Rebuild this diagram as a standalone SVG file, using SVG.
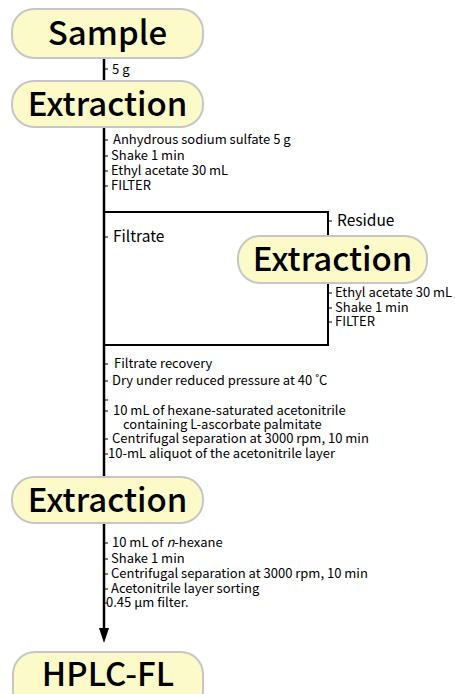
<svg xmlns="http://www.w3.org/2000/svg" width="455" height="694" viewBox="0 0 455 694">
<style>
.box{fill:#fdfac9;stroke:#c6c6c6;stroke-width:2}
.big{font-family:"Noto Sans CJK JP","Noto Sans",sans-serif;font-size:33px;font-weight:500;fill:#000;text-anchor:middle}
.t{font-family:"Noto Sans CJK JP","Noto Sans",sans-serif;font-size:13px;fill:#000}
.m{font-family:"Noto Sans CJK JP","Noto Sans",sans-serif;font-size:15.5px;fill:#000}
.ln{stroke:#000;fill:none}
</style>
<rect width="455" height="694" fill="#fff"/>
<g id="connectors">
<line class="ln" x1="104" y1="58" x2="104" y2="81" stroke-width="2.5"/>
<line class="ln" x1="104" y1="127" x2="104" y2="630" stroke-width="2.5"/>
<polygon points="99,628 109,628 104,643" fill="#000"/>
<polyline class="ln" points="104,212 328,212 328,235" stroke-width="2"/>
<polyline class="ln" points="328,284 328,345 104,345" stroke-width="2"/>
<g stroke="#000" stroke-width="1">
<line x1="104" y1="69" x2="108" y2="69"/>
<line x1="104" y1="140" x2="108" y2="140"/>
<line x1="104" y1="156" x2="108" y2="156"/>
<line x1="104" y1="171" x2="108" y2="171"/>
<line x1="104" y1="186" x2="108" y2="186"/>
<line x1="104" y1="237" x2="108" y2="237"/>
<line x1="104" y1="364" x2="108" y2="364"/>
<line x1="104" y1="381" x2="108" y2="381"/>
<line x1="104" y1="400" x2="108" y2="400"/>
<line x1="104" y1="411" x2="108" y2="411"/>
<line x1="104" y1="439" x2="108" y2="439"/>
<line x1="104" y1="454" x2="108" y2="454"/>
<line x1="104" y1="543" x2="108" y2="543"/>
<line x1="104" y1="559" x2="108" y2="559"/>
<line x1="104" y1="574" x2="108" y2="574"/>
<line x1="104" y1="589" x2="108" y2="589"/>
<line x1="104" y1="603" x2="108" y2="603"/>
<line x1="328" y1="221" x2="332" y2="221"/>
<line x1="328" y1="293" x2="332" y2="293"/>
<line x1="328" y1="308" x2="332" y2="308"/>
<line x1="328" y1="322" x2="332" y2="322"/>
</g>
</g>
<g id="sample">
<rect class="box" x="12" y="9" width="191" height="49" rx="22"/>
<text class="big" x="107.5" y="45">Sample</text>
</g>
<g id="extraction1">
<rect class="box" x="12" y="81" width="191" height="46" rx="22"/>
<text class="big" x="107.5" y="116">Extraction</text>
</g>
<g id="extraction2">
<rect class="box" x="238" y="236" width="189" height="47" rx="22"/>
<text class="big" x="332.5" y="271">Extraction</text>
</g>
<g id="extraction3">
<rect class="box" x="12" y="477" width="191" height="46" rx="22"/>
<text class="big" x="107.5" y="512">Extraction</text>
</g>
<g id="hplc">
<rect class="box" x="13" y="652" width="190" height="60" rx="22"/>
<text class="big" x="108" y="686">HPLC-FL</text>
</g>
<g id="labels">
<text class="t" x="112" y="74">5 g</text>
<text class="t" x="113" y="144">Anhydrous sodium sulfate 5 g</text>
<text class="t" x="111" y="160">Shake 1 min</text>
<text class="t" x="111" y="175">Ethyl acetate 30 mL</text>
<text class="t" x="111" y="190">FILTER</text>
<text class="m" x="113" y="242">Filtrate</text>
<text class="m" x="337" y="226">Residue</text>
<text class="t" x="335" y="297">Ethyl acetate 30 mL</text>
<text class="t" x="335" y="312">Shake 1 min</text>
<text class="t" x="335" y="326">FILTER</text>
<text class="t" x="114" y="368">Filtrate recovery</text>
<text class="t" x="112" y="385">Dry under reduced pressure at 40 ˚C</text>
<text class="t" x="113" y="415">10 mL of hexane-saturated acetonitrile</text>
<text class="t" x="123" y="429">containing L-ascorbate palmitate</text>
<text class="t" x="112" y="443">Centrifugal separation at 3000 rpm, 10 min</text>
<text class="t" x="108" y="458">10-mL aliquot of the acetonitrile layer</text>
<text class="t" x="112" y="547">10 mL of <tspan font-style="italic">n</tspan>-hexane</text>
<text class="t" x="111" y="563">Shake 1 min</text>
<text class="t" x="111" y="578">Centrifugal separation at 3000 rpm, 10 min</text>
<text class="t" x="111" y="593">Acetonitrile layer sorting</text>
<text class="t" x="106" y="607">0.45 μm filter.</text>
</g>
</svg>
